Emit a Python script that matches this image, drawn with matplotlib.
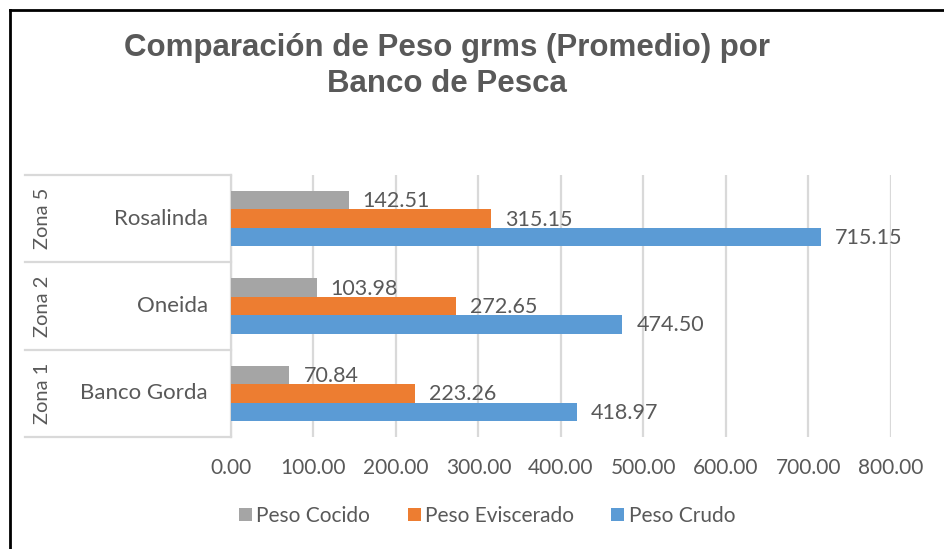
import matplotlib
matplotlib.use("Agg")
import matplotlib.pyplot as plt
import matplotlib.transforms as mtransforms
from matplotlib.patches import Patch
from matplotlib.lines import Line2D

zones = ["Zona 1", "Zona 2", "Zona 5"]
banks = ["Banco Gorda", "Oneida", "Rosalinda"]
series_names = ["Peso Cocido", "Peso Eviscerado", "Peso Crudo"]
peso_cocido = [70.84, 103.98, 142.51]
peso_eviscerado = [223.26, 272.65, 315.15]
peso_crudo = [418.97, 474.50, 715.15]
x_ticks = [0, 100, 200, 300, 400, 500, 600, 700, 800]
title = "Comparación de Peso grms (Promedio) por\nBanco de Pesca"

colors = ["#A5A5A5", "#ED7D31", "#5B9BD5"]
txt = "#595959"
grid_c = "#D9D9D9"
font = ["Lato", "DejaVu Sans"]

W, H = 945, 549
fig = plt.figure(figsize=(W / 100, H / 100), dpi=100)
fig.patch.set_facecolor("white")

ax = fig.add_axes([231 / W, 1 - 437 / H, (891 - 231) / W, (437 - 175) / H])
ax.set_xlim(0, 800)
ax.set_ylim(-0.5, 2.5)

bh = 0.21
ypos = list(range(len(banks)))
all_series = [peso_cocido, peso_eviscerado, peso_crudo]
offsets = [bh, 0, -bh]
for vals, c, off, name in zip(all_series, colors, offsets, series_names):
    ys = [y + off for y in ypos]
    ax.barh(ys, vals, height=bh, color=c, label=name, zorder=3)
    for y, v in zip(ys, vals):
        ax.annotate(f"{v:.2f}", xy=(v, y), xytext=(14, -1), textcoords="offset pixels",
                    ha="left", va="center", fontsize=15.5, color=txt, family=font, zorder=4)

ax.set_xticks(x_ticks)
ax.set_xticklabels([f"{t:.2f}" for t in x_ticks], fontsize=15, color=txt, family=font)
ax.tick_params(axis="x", length=0, pad=15)
ax.set_yticks([])
ax.grid(axis="x", color=grid_c, linewidth=1.6, zorder=0)
ax.set_axisbelow(True)
for s in ["top", "right", "bottom"]:
    ax.spines[s].set_visible(False)
ax.spines["left"].set_color(grid_c)
ax.spines["left"].set_linewidth(1.6)

# multi-level category labels
blend = mtransforms.blended_transform_factory(fig.transFigure, ax.transData)
for yb in [-0.5, 0.5, 1.5, 2.5]:
    ax.add_line(Line2D([25 / W, 231 / W], [yb, yb], transform=blend, color=grid_c,
                       linewidth=1.6, clip_on=False))
for y, b, z in zip(ypos, banks, zones):
    ax.text(208 / W, y, b, transform=blend, ha="right", va="center", fontsize=16,
            color=txt, family=font)
    ax.text(42 / W, y, z, transform=blend, ha="center", va="center", rotation=90,
            fontsize=14.5, color=txt, family=font)

# title
fig.text(447 / W, 1 - 66 / H, title, ha="center", va="center", fontsize=22.5,
         fontweight="bold", color=txt, family=["Liberation Sans", "DejaVu Sans"],
         linespacing=1.3)

# legend
handles = [Patch(facecolor=c, edgecolor="none") for c in colors]
fig.legend(handles, series_names, loc="center", bbox_to_anchor=(487 / W, 1 - 516 / H),
           ncol=3, frameon=False, handlelength=0.63, handleheight=0.63, handletextpad=0.2,
           columnspacing=1.8, prop={"family": font, "size": 15}, labelcolor=txt)

# outer black border (left and top)
fig.add_artist(Line2D([10 / W, 10 / W], [0, 1 - 10 / H], transform=fig.transFigure,
                      color="black", linewidth=2))
fig.add_artist(Line2D([10 / W, 1], [1 - 10 / H, 1 - 10 / H], transform=fig.transFigure,
                      color="black", linewidth=2))

fig.savefig("out.png", dpi=100)
